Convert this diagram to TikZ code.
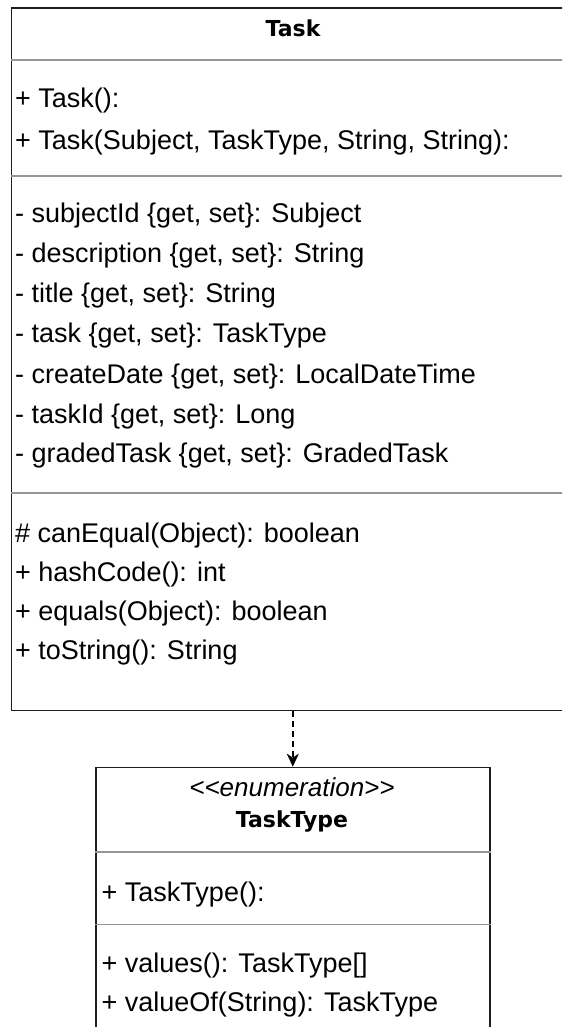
\documentclass[tikz,border=0pt]{standalone}
\usepackage{fontspec}
\setmainfont{Liberation Sans}
\newfontfamily\headfont{DejaVu Sans}
\usetikzlibrary{arrows.meta}
\definecolor{sepgray}{RGB}{150,150,150}
\definecolor{boxline}{RGB}{30,30,30}
\begin{document}
\begin{tikzpicture}[x=1pt,y=-1pt,
  umlbox/.style={draw=boxline, line width=1.6pt, rectangle, inner sep=0pt, anchor=north west},
  sepline/.style={draw=sepgray, line width=1.5pt},
  member/.style={anchor=base west, inner sep=0pt, font=\fontsize{27}{32}\selectfont},
  classname/.style={anchor=base, inner sep=0pt, font=\headfont\bfseries\fontsize{22}{26}\selectfont},
  stereo/.style={anchor=base, inner sep=0pt, font=\itshape\fontsize{26}{30}\selectfont},
  dependency/.style={draw=black, line width=1.5pt, dash pattern=on 6pt off 4pt,
    -{Stealth[length=13pt, width=12pt, inset=4pt]}}]
\clip (0,0) rectangle (562,1027);

% class Task
\node[umlbox, minimum width=565pt, minimum height=702.5pt] (task) at (10.5,7) {};
\node[classname] (tasktitle) at (293,37) {Task};
\draw[sepline] (task.west |- 0,60) -- (task.east |- 0,60);
\node[member] (c1) at (15,107.5) {+ Task():};
\node[member] (c2) at (15,149.5) {+ Task(Subject, TaskType, String, String):};
\draw[sepline] (task.west |- 0,176) -- (task.east |- 0,176);
\node[member] (a1) at (15,222.5) {- subjectId \{get, set\}: Subject};
\node[member] (a2) at (15,262.5) {- description \{get, set\}: String};
\node[member] (a3) at (15,302.5) {- title \{get, set\}: String};
\node[member] (a4) at (15,342.5) {- task \{get, set\}: TaskType};
\node[member] (a5) at (15,383) {- createDate \{get, set\}: LocalDateTime};
\node[member] (a6) at (15,423) {- taskId \{get, set\}: Long};
\node[member] (a7) at (15,462.5) {- gradedTask \{get, set\}: GradedTask};
\draw[sepline] (task.west |- 0,493) -- (task.east |- 0,493);
\node[member] (m1) at (15,542.5) {\# canEqual(Object): boolean};
\node[member] (m2) at (15,581.5) {+ hashCode(): int};
\node[member] (m3) at (15,620.5) {+ equals(Object): boolean};
\node[member] (m4) at (15,659.5) {+ toString(): String};

% enumeration TaskType
\node[umlbox, minimum width=394pt, minimum height=300pt] (tasktype) at (95,766.7) {};
\node[stereo] (ttstereo) at (292,796) {<{}<enumeration>{}>};
\node[classname] (tttitle) at (292,827) {TaskType};
\draw[sepline] (tasktype.west |- 0,852) -- (tasktype.east |- 0,852);
\node[member] (e1) at (101.5,901.5) {+ TaskType():};
\draw[sepline] (tasktype.west |- 0,924.5) -- (tasktype.east |- 0,924.5);
\node[member] (e2) at (101.5,972.5) {+ values(): TaskType[]};
\node[member] (e3) at (101.5,1011.5) {+ valueOf(String): TaskType};

% dependency
\draw[dependency] (tasktype.north |- task.south) -- (tasktype.north);
\end{tikzpicture}
\end{document}
